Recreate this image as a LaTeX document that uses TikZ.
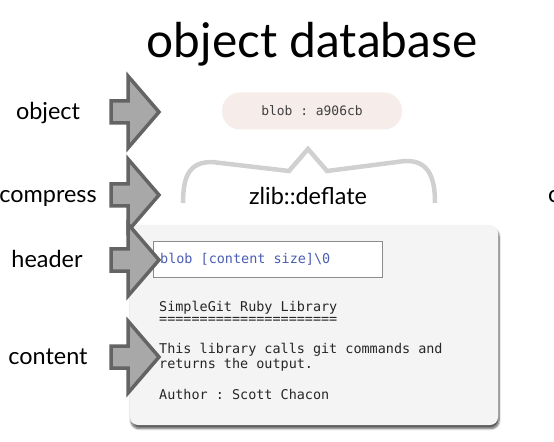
\documentclass[tikz,border=0pt]{standalone}
\usepackage{fontspec}
\setmainfont{Lato}
\setmonofont{DejaVu Sans Mono}
\usetikzlibrary{shadows.blur}

\definecolor{arrowfill}{HTML}{A8A8A8}
\definecolor{arrowline}{HTML}{646464}
\definecolor{bracegray}{HTML}{D0D0D0}
\definecolor{pillpink}{HTML}{F6ECEA}
\definecolor{cardgray}{HTML}{F4F4F4}
\definecolor{headblue}{HTML}{4A5DB3}

\tikzset{
	rowlabel/.style={font=\fontsize{23.5}{26}\selectfont, anchor=base, inner sep=0pt},
	codeline/.style={font=\ttfamily\fontsize{13.5}{15}\selectfont, text=black!85, anchor=base west, inner sep=0pt},
	blockarrow/.style={fill=arrowfill, draw=arrowline, line width=3.5bp}
}

\begin{document}
\begin{tikzpicture}[x=1bp, y=-1bp]
		\useasboundingbox (0,0) rectangle (554,442);

		\node[font=\fontsize{48}{54}\selectfont, anchor=base, inner sep=0pt] (title) at (312,58) {object database};

		% blob pill
		\node[fill=pillpink, rounded corners=18bp, minimum width=180bp, minimum height=37bp, font=\ttfamily\fontsize{13}{15}\selectfont, text=black!75] (blob) at (312,111) {blob : a906cb};

		% brace
		\draw[bracegray, line width=4.5bp] (183,203) .. controls (183,175) and (190,162) .. (212,162) -- (289,171) -- (308,149) -- (327,171) -- (405,161) .. controls (430,160) and (435,180) .. (435,203);
		\node[rowlabel] (zlib) at (308,205) {zlib::deflate};

		% content card
		\fill[cardgray, rounded corners=8bp, blur shadow={shadow xshift=1bp, shadow yshift=-3.5bp, shadow blur steps=8, shadow opacity=65}] (130,225) rectangle (498,425);
		\draw[black!45, fill=white, line width=1bp] (153,242) rectangle (382,277);
		\node[codeline, text=headblue] (header) at (160,264) {blob [content size]\textbackslash 0};
		\node[codeline] (name) at (159,311) {SimpleGit Ruby Library};
		\node[codeline] (rule) at (159,323) {======================};
		\node[codeline] (desc1) at (159,353) {This library calls git commands and};
		\node[codeline] (desc2) at (159,368) {returns the output.};
		\node[codeline] (author) at (159,399) {Author : Scott Chacon};

		% labels on the left
		\node[rowlabel] (lobject) at (48,120) {object};
		\node[rowlabel] (lcompress) at (48,203) {compress};
		\node[rowlabel] (lheader) at (47,268) {header};
		\node[rowlabel] (lcontent) at (48,364) {content};
		\node[rowlabel, anchor=base west] (lcut) at (548,203) {c};

		% block arrows
		\foreach \y in {112, 195, 260, 357} {
			\draw[blockarrow] (111,\y-11) -- (128,\y-11) -- (128,\y-36) -- (159,\y) -- (128,\y+36) -- (128,\y+11) -- (111,\y+11) -- cycle;
		}
	\end{tikzpicture}
\end{document}
